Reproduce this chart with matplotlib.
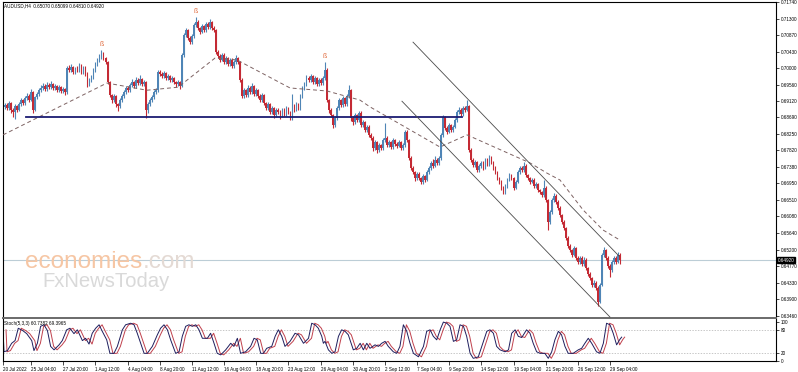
import numpy as np
import matplotlib
matplotlib.use("Agg")
import matplotlib.pyplot as plt

# AUDUSD H4 candles, prices in 1/10000 (0.6902 -> 6902)
first_open = 6897
closes = [
    6902, 6894, 6907, 6889, 6883, 6899, 6889, 6904, 6915, 6907,
    6920, 6926, 6915, 6936, 6889, 6923, 6931, 6941, 6947, 6952,
    6944, 6955, 6949, 6957, 6947, 6952, 6941, 6949, 6939, 6944,
    6936, 7000, 6994, 7002, 6989, 6997, 6994, 7005, 6989, 7000,
    6984, 6957, 6968, 6973, 6994, 7010, 7021, 7029, 7036, 7026,
    7015, 6962, 6928, 6915, 6926, 6904, 6899, 6915, 6926, 6936,
    6947, 6941, 6955, 6962, 6952, 6968, 6960, 6970, 6957, 6962,
    6889, 6904, 6915, 6923, 6936, 6941, 6989, 6984, 6978, 6986,
    6973, 6978, 6968, 6973, 6962, 6957, 6962, 6952, 7034, 7087,
    7100, 7079, 7068, 7084, 7113, 7121, 7105, 7095, 7110, 7100,
    7116, 7108, 7121, 7105, 7100, 7042, 7031, 7021, 7034, 7015,
    7026, 7010, 7021, 7005, 7015, 7026, 7015, 6968, 6926, 6941,
    6928, 6947, 6936, 6952, 6931, 6941, 6926, 6915, 6928, 6907,
    6894, 6904, 6883, 6894, 6875, 6889, 6883, 6873, 6889, 6878,
    6894, 6883, 6867, 6899, 6889, 6904, 6894, 6926, 6947, 6957,
    6973, 6968, 6978, 6962, 6973, 6957, 6968, 6960, 6973, 6994,
    6915, 6889, 6875, 6849, 6867, 6894, 6915, 6902, 6920, 6904,
    6926, 6941, 6867, 6857, 6875, 6862, 6881, 6849, 6857, 6836,
    6844, 6823, 6815, 6788, 6804, 6783, 6796, 6788, 6809, 6815,
    6796, 6804, 6791, 6809, 6799, 6794, 6804, 6788, 6796, 6831,
    6809, 6762, 6736, 6725, 6709, 6720, 6709, 6699, 6714, 6704,
    6725, 6736, 6749, 6741, 6757, 6749, 6762, 6823, 6870, 6841,
    6831, 6849, 6836, 6844, 6862, 6883, 6889, 6878, 6894, 6889,
    6899, 6783, 6757, 6743, 6751, 6730, 6741, 6749, 6736, 6757,
    6746, 6762, 6751, 6736, 6725, 6709, 6699, 6683, 6672, 6688,
    6704, 6717, 6709, 6683, 6699, 6725, 6736, 6730, 6741, 6717,
    6709, 6699, 6704, 6688, 6693, 6677, 6672, 6664, 6683, 6651,
    6593, 6619, 6651, 6662, 6646, 6630, 6611, 6593, 6577, 6551,
    6530, 6519, 6506, 6524, 6498, 6487, 6498, 6482, 6493, 6471,
    6456, 6445, 6427, 6432, 6419, 6382, 6427, 6506, 6519, 6498,
    6477, 6466, 6487, 6498, 6487, 6507, 6492,
]
highs = [
    6908, 6906, 6912, 6910, 6893, 6904, 6903, 6909, 6921, 6918,
    6925, 6933, 6930, 6945, 6940, 6927, 6936, 6947, 6955, 6960,
    6957, 6962, 6960, 6965, 6961, 6958, 6955, 6954, 6952, 6950,
    6948, 7005, 7008, 7010, 7006, 7003, 7004, 7013, 7009, 7006,
    7004, 6988, 6973, 6980, 6999, 7015, 7027, 7036, 7047, 7041,
    7030, 7018, 6966, 6932, 6931, 6929, 6908, 6920, 6930, 6941,
    6953, 6952, 6960, 6970, 6966, 6976, 6972, 6982, 6974, 6968,
    6966, 6910, 6920, 6928, 6941, 6947, 6994, 6995, 6989, 6992,
    6990, 6984, 6982, 6979, 6977, 6966, 6967, 6965, 7038, 7092,
    7106, 7104, 7083, 7090, 7118, 7134, 7126, 7109, 7115, 7114,
    7121, 7120, 7128, 7125, 7110, 7104, 7048, 7036, 7040, 7038,
    7032, 7030, 7027, 7025, 7021, 7033, 7030, 7019, 6972, 6946,
    6945, 6955, 6952, 6960, 6956, 6947, 6945, 6930, 6934, 6932,
    6911, 6910, 6908, 6900, 6898, 6895, 6894, 6888, 6894, 6893,
    6899, 6898, 6887, 6930, 6904, 6909, 6908, 6931, 6952, 6963,
    6980, 6978, 6984, 6982, 6979, 6977, 6973, 6972, 6979, 7015,
    6999, 6919, 6893, 6879, 6872, 6899, 6920, 6919, 6925, 6924,
    6931, 6955, 6945, 6872, 6880, 6879, 6886, 6885, 6862, 6861,
    6850, 6848, 6828, 6819, 6809, 6808, 6801, 6800, 6814, 6854,
    6820, 6809, 6808, 6814, 6813, 6804, 6809, 6808, 6801, 6836,
    6835, 6813, 6766, 6741, 6729, 6726, 6724, 6713, 6719, 6718,
    6730, 6741, 6754, 6760, 6767, 6762, 6768, 6828, 6876, 6874,
    6846, 6854, 6853, 6850, 6868, 6889, 6896, 6894, 6900, 6899,
    6915, 6903, 6788, 6762, 6757, 6755, 6746, 6755, 6753, 6762,
    6761, 6770, 6766, 6755, 6740, 6729, 6713, 6703, 6687, 6693,
    6709, 6722, 6721, 6713, 6704, 6730, 6741, 6740, 6751, 6745,
    6721, 6713, 6709, 6708, 6698, 6697, 6681, 6676, 6704, 6687,
    6655, 6624, 6656, 6670, 6666, 6650, 6634, 6615, 6597, 6581,
    6555, 6535, 6523, 6530, 6528, 6502, 6504, 6502, 6500, 6497,
    6475, 6460, 6449, 6440, 6437, 6423, 6432, 6511, 6527, 6522,
    6502, 6481, 6492, 6504, 6502, 6514, 6510,
]
lows = [
    6891, 6888, 6890, 6880, 6870, 6865, 6884, 6885, 6900, 6902,
    6903, 6915, 6910, 6912, 6881, 6885, 6918, 6927, 6936, 6942,
    6938, 6940, 6944, 6945, 6941, 6942, 6936, 6937, 6933, 6934,
    6928, 6932, 6988, 6990, 6983, 6985, 6988, 6990, 6984, 6985,
    6978, 6950, 6952, 6963, 6970, 6990, 7005, 7016, 7024, 7020,
    7010, 6957, 6922, 6908, 6910, 6897, 6886, 6895, 6910, 6921,
    6931, 6936, 6937, 6950, 6947, 6948, 6955, 6956, 6952, 6951,
    6867, 6882, 6899, 6910, 6918, 6931, 6937, 6979, 6973, 6974,
    6968, 6969, 6963, 6964, 6957, 6950, 6952, 6945, 6950, 7030,
    7082, 7073, 7062, 7064, 7080, 7108, 7100, 7089, 7091, 7094,
    7096, 7103, 7104, 7100, 7094, 7036, 7025, 7015, 7017, 7010,
    7011, 7004, 7006, 6999, 7001, 7011, 7010, 6962, 6920, 6921,
    6923, 6924, 6931, 6932, 6926, 6927, 6920, 6909, 6911, 6901,
    6888, 6890, 6877, 6879, 6868, 6871, 6877, 6866, 6869, 6872,
    6874, 6878, 6862, 6863, 6884, 6885, 6888, 6890, 6921, 6942,
    6952, 6962, 6963, 6957, 6958, 6952, 6953, 6955, 6956, 6969,
    6910, 6882, 6869, 6841, 6844, 6863, 6890, 6897, 6898, 6899,
    6900, 6921, 6860, 6850, 6852, 6856, 6858, 6843, 6844, 6830,
    6831, 6817, 6809, 6781, 6783, 6776, 6779, 6783, 6784, 6805,
    6790, 6792, 6786, 6787, 6794, 6789, 6790, 6783, 6784, 6792,
    6804, 6756, 6730, 6719, 6701, 6704, 6703, 6693, 6694, 6698,
    6700, 6720, 6731, 6736, 6737, 6743, 6744, 6758, 6818, 6835,
    6825, 6827, 6830, 6831, 6840, 6858, 6879, 6872, 6874, 6884,
    6885, 6777, 6751, 6737, 6738, 6724, 6726, 6736, 6731, 6732,
    6741, 6742, 6746, 6731, 6719, 6703, 6693, 6677, 6666, 6668,
    6684, 6700, 6704, 6677, 6679, 6695, 6721, 6725, 6726, 6712,
    6704, 6694, 6695, 6683, 6684, 6672, 6667, 6659, 6660, 6646,
    6572, 6588, 6615, 6647, 6641, 6625, 6605, 6587, 6571, 6545,
    6524, 6513, 6500, 6502, 6492, 6481, 6483, 6476, 6478, 6465,
    6450, 6439, 6421, 6422, 6413, 6370, 6378, 6423, 6500, 6492,
    6471, 6448, 6461, 6483, 6482, 6484, 6481,
]

# dashed moving average (bar index, price/1e4)
ma_x = [-1, 50.7, 70.6, 86.1, 104.5, 115.4, 141.8, 160.2, 176.6, 181.6,
        200.0, 216.4, 229.9, 261.2, 269.7, 276.1, 287.6, 297.5, 306.0]
ma_v = [6823, 6960, 6941, 6949, 7026, 7021, 6947, 6939, 6915, 6897,
        6841, 6791, 6823, 6749, 6722, 6704, 6625, 6572, 6545]

# drawn objects
support = ((10.4, 227.4), 6871)
chan_up = ((203, 305.5), (7068, 6503))
chan_dn = ((197.5, 301), (6912, 6342))
fractal_bars = [48, 95, 159]

# Stoch(5,3,3) main line turning points
sto_x = [-1, -0.5, 1.2, 3.3, 5.0, 6.6, 8.8, 10.8, 13.3, 14.4, 16.1, 17.7, 19.4, 21.1,
         22.7, 24.4, 26.9, 28.5, 30.7, 32.3, 34.3, 36.0, 38.5, 40.1, 41.8, 43.4, 45.1,
         46.8, 48.4, 50.6, 52.2, 54.2, 55.9, 58.4, 60.0, 62.5, 64.2, 65.8, 67.5, 69.2,
         70.8, 73.3, 75.8, 77.4, 79.1, 80.8, 82.4, 84.9, 86.6, 88.2, 89.9, 91.5, 93.2,
         94.9, 96.5, 98.2, 100.7, 102.3, 104.0, 105.6, 107.3, 109.8, 112.3, 113.9, 115.6,
         117.2, 119.7, 122.2, 123.9, 125.5, 127.2, 128.6, 130.2, 132.7, 134.4, 136.0,
         137.7, 139.3, 141.8, 144.3, 146.0, 148.5, 151.0, 152.6, 154.3, 155.9, 157.6,
         158.4, 159.2, 160.9, 162.6, 164.2, 165.9, 167.5, 169.2, 170.8, 173.3, 175.0,
         176.7, 178.3, 180.0, 181.6, 184.1, 185.8, 187.4, 189.1, 190.7, 193.2, 194.9,
         196.5, 198.2, 199.9, 201.5, 203.2, 205.7, 208.2, 209.8, 211.5, 213.1, 214.8,
         216.5, 218.1, 219.8, 221.4, 223.1, 224.7, 226.4, 228.1, 229.7, 231.4, 233.0,
         235.5, 237.2, 239.7, 241.3, 243.0, 244.6, 246.3, 248.8, 250.5, 252.1, 253.8,
         255.4, 257.1, 259.5, 261.2, 262.8, 264.5, 266.2, 268.6, 270.3, 272.0, 273.6,
         275.3, 276.9, 278.6, 280.2, 282.7, 285.2, 286.9, 288.5, 290.2, 291.9, 294.3,
         296.0, 297.7, 299.3, 301.0, 302.6, 304.3, 305.9, 306.8]
sto_v = [80, 23, 26, 45, 52, 84, 78, 70, 52, 26, 45, 89, 93, 78,
         37, 28, 41, 52, 80, 84, 70, 80, 52, 58, 43, 71, 84,
         93, 76, 54, 19, 19, 37, 80, 93, 97, 93, 71, 45, 19,
         19, 37, 67, 84, 93, 80, 54, 19, 23, 63, 89, 93, 89,
         93, 80, 58, 58, 71, 45, 19, 15, 28, 45, 37, 58,
         19, 23, 37, 58, 54, 19, 19, 32, 37, 63, 80,
         63, 37, 50, 71, 67, 45, 58, 97, 93, 84, 63,
         45, 50, 28, 19, 23, 63, 80, 76, 67, 28, 32,
         45, 28, 45, 32, 41, 37, 45, 50, 37, 23, 19,
         37, 93, 76, 45, 19, 10, 37, 76, 80, 63, 54,
         80, 100, 97, 89, 50, 54, 93, 89, 63, 19, 6,
         10, 37, 76, 80, 71, 37, 28, 23, 28, 71, 80,
         63, 60, 80, 71, 45, 23, 19, 19, 6, 23, 54,
         76, 67, 37, 19, 19, 28, 32, 45, 58, 45, 23,
         19, 45, 97, 93, 71, 41, 55, 61]

price_ticks = [0.71740, 0.71300, 0.70870, 0.70430, 0.70000, 0.69560, 0.69120,
               0.68690, 0.68250, 0.67820, 0.67380, 0.66950, 0.66510, 0.66080,
               0.65640, 0.65200, 0.64770, 0.64330, 0.63900, 0.63460]
last_price = 0.64920
xtick_pos = [-1, 13, 29, 45, 61, 77, 93, 109, 125, 141, 157, 173, 189, 205,
             221, 237, 253, 269, 285, 301]
xtick_lbl = ["20 Jul 2022", "25 Jul 04:00", "27 Jul 20:00", "1 Aug 12:00",
             "4 Aug 04:00", "8 Aug 20:00", "11 Aug 12:00", "16 Aug 04:00",
             "18 Aug 20:00", "23 Aug 12:00", "26 Aug 04:00", "30 Aug 20:00",
             "2 Sep 12:00", "7 Sep 04:00", "9 Sep 20:00", "14 Sep 12:00",
             "19 Sep 04:00", "21 Sep 20:00", "26 Sep 12:00", "29 Sep 04:00"]
header = "AUDUSD,H4  0.65070 0.65099 0.64810 0.64920"
stoch_label = "Stoch(5,3,3) 60.7382 69.3965"

BULL = "#4f85b6"
BEAR = "#c42a34"
SMALL = 3.3

plt.rcParams['font.family'] = ['Liberation Sans', 'DejaVu Sans']

W, H = 798, 372
fig = plt.figure(figsize=(W / 100, H / 100), dpi=100)


def box(x0, y0, x1, y1):
    # pixel box -> figure fraction rect
    return [x0 / W, 1 - y1 / H, (x1 - x0) / W, (y1 - y0) / H]


ax = fig.add_axes(box(3, 2, 776, 318))
ax2 = fig.add_axes(box(3, 319, 776, 361))

c = np.array(closes) / 1e4
o = np.r_[first_open, closes[:-1]] / 1e4
h = np.array(highs) / 1e4
l = np.array(lows) / 1e4
idx = np.arange(len(c))
col = np.where(c >= o, BULL, BEAR)

# current price line behind the candles
ax.axhline(last_price, color="#bccdd6", lw=0.8, zorder=0)

ax.vlines(idx, l, h, colors=col, lw=0.8, zorder=3)
ax.bar(idx, np.abs(c - o), bottom=np.minimum(o, c), width=0.85, color=col,
       linewidth=0, zorder=3)

ax.plot(ma_x, np.array(ma_v) / 1e4, color="#7d6262", lw=0.7,
        dashes=(4, 3), zorder=4)
ax.plot(support[0], [support[1] / 1e4] * 2, color="#1b1b72", lw=1.3, zorder=4)
ax.plot(chan_up[0], np.array(chan_up[1]) / 1e4, color="#4a4a4a", lw=0.6, zorder=4)
ax.plot(chan_dn[0], np.array(chan_dn[1]) / 1e4, color="#4a4a4a", lw=0.6, zorder=4)

for b in fractal_bars:
    ax.annotate("ß", (b, h[b]), xytext=(0, 1.5), textcoords="offset points",
                ha="center", va="bottom", fontsize=5, color="#e0683a", zorder=5)

ax.set_xlim(-1, 383.6)
ax.set_ylim(0.63395, 0.71740)
ax.yaxis.tick_right()
ax.set_yticks(price_ticks)
ax.set_yticklabels([f"{t:.5f}" for t in price_ticks])
ax.tick_params(axis="y", length=2.2, width=0.5, pad=1, labelsize=SMALL)
ax.set_xticks([])
for s in ["left", "top", "right"]:
    ax.spines[s].set_linewidth(0.8)
ax.spines["bottom"].set_linewidth(1.4)
ax.spines["bottom"].set_color("#6a6a6a")

ax.annotate(f"{last_price:.5f}", (1, last_price),
            xycoords=("axes fraction", "data"), xytext=(1.2, 0),
            textcoords="offset points", ha="left", va="center",
            fontsize=SMALL, color="white",
            bbox=dict(boxstyle="square,pad=0.12", fc="black", ec="black"))

# stochastic panel
ax2.axhline(80, color="#b0b0b0", lw=0.5, ls=(0, (2, 2)))
ax2.axhline(20, color="#b0b0b0", lw=0.5, ls=(0, (2, 2)))
ax2.plot(np.array(sto_x) + 1.5, sto_v, color="#c0404c", lw=0.7)
ax2.plot(sto_x, sto_v, color="#1e1e5e", lw=0.7)
ax2.set_xlim(-1, 383.6)
ax2.set_ylim(-0.9, 108)
ax2.yaxis.tick_right()
ax2.set_yticks([100, 80, 20, 0])
ax2.set_yticklabels(["100", "80", "20", "0"])
ax2.tick_params(axis="y", length=2.2, width=0.5, pad=1, labelsize=SMALL)
ax2.set_xticks(xtick_pos)
ax2.set_xticklabels(xtick_lbl)
ax2.tick_params(axis="x", length=3, width=0.5, pad=1.5, labelsize=SMALL)
for t in ax2.get_xticklabels():
    t.set_ha("left")
for s in ["left", "bottom", "right"]:
    ax2.spines[s].set_linewidth(0.8)
ax2.spines["top"].set_visible(False)

# texts
fig.text(4 / W, 1 - 6 / H, header, fontsize=SMALL, va="center", ha="left")
fig.text(4 / W, 1 - 324 / H, stoch_label, fontsize=SMALL, va="center", ha="left")

wm = ["Liberation Sans", "DejaVu Sans"]
fig.text(25 / W, 1 - 268 / H, "economies", family=wm, fontsize=17.5,
         color="#f6c6a4", va="baseline", ha="left")
fig.text(143 / W, 1 - 268 / H, ".com", family=wm, fontsize=17.5,
         color="#e4dad4", va="baseline", ha="left")
fig.text(42 / W, 1 - 287 / H, "FxNewsToday", family=wm, fontsize=14.6,
         color="#d9d9d9", va="baseline", ha="left")

fig.savefig("out.png", dpi=100)
